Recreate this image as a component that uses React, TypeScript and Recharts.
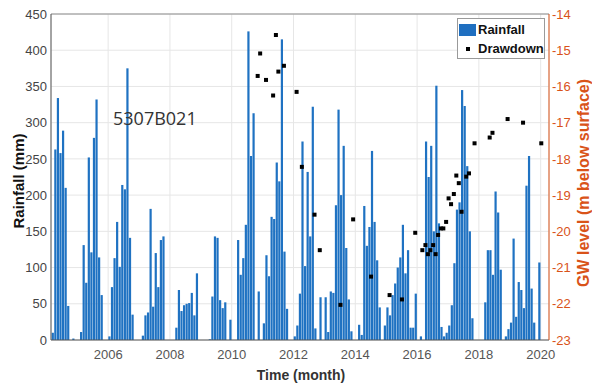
import {
  Bar,
  CartesianGrid,
  ComposedChart,
  ReferenceLine,
  Scatter,
  XAxis,
  YAxis
} from "recharts";

const firstYear = 2004;

// monthly rainfall (mm), Jan 2004 .. Dec 2019, one row per year
const rainfall = [
  0, 0, 10, 263, 334, 258, 289, 210, 47, 0, 2, 0,
  0, 11, 131, 79, 252, 121, 279, 332, 114, 62, 0, 0,
  5, 73, 113, 163, 101, 214, 208, 375, 141, 35, 0, 0,
  0, 6, 34, 38, 181, 46, 120, 73, 138, 143, 0, 0,
  0, 0, 17, 69, 40, 48, 50, 51, 65, 34, 92, 0,
  0, 0, 0, 1, 60, 143, 141, 55, 44, 52, 0, 28,
  0, 0, 138, 90, 113, 159, 426, 254, 313, 0, 67, 0,
  23, 117, 88, 170, 167, 245, 219, 415, 122, 43, 0, 0,
  5, 20, 64, 274, 102, 232, 143, 322, 16, 0, 59, 0,
  59, 11, 67, 65, 186, 318, 200, 268, 127, 56, 12, 0,
  0, 21, 7, 185, 130, 156, 261, 163, 110, 45, 0, 20,
  45, 34, 62, 78, 100, 114, 159, 92, 124, 17, 17, 64,
  0, 5, 0, 274, 225, 268, 150, 351, 161, 18, 5, 10,
  20, 48, 106, 180, 190, 345, 323, 240, 150, 30, 0, 0,
  0, 0, 52, 124, 124, 90, 205, 176, 97, 0, 5, 15,
  24, 140, 32, 80, 69, 44, 213, 254, 71, 24, 0, 107
];

// drawdown observations (decimal year, m below surface)
const drawdownTime = [
  2010.84, 2010.92, 2011.11, 2011.34, 2011.43, 2011.51, 2011.69, 2012.1, 2012.27,
  2012.68, 2012.85, 2013.52, 2013.93, 2014.51, 2015.11, 2015.51, 2015.94, 2016.17,
  2016.27, 2016.35, 2016.43, 2016.52, 2016.6, 2016.68, 2016.77, 2016.85, 2016.94,
  2017.02, 2017.1, 2017.19, 2017.27, 2017.35, 2017.44, 2017.59, 2017.68, 2017.86,
  2018.35, 2018.44, 2018.93, 2019.43, 2020.02
];
const drawdownLevel = [
  -15.71, -15.09, -15.82, -16.25, -14.58, -15.59, -15.43, -16.15, -18.22,
  -19.54, -20.52, -22.03, -19.67, -21.25, -21.76, -21.88, -20.04, -20.52,
  -20.38, -20.63, -20.52, -20.38, -20.63, -20.1, -19.92, -19.92, -19.74,
  -19.09, -19.25, -18.97, -18.46, -18.67, -19.46, -18.49, -18.4, -17.57,
  -17.41, -17.28, -16.9, -17.0, -17.57
];

const yearTicks = [2006, 2008, 2010, 2012, 2014, 2016, 2018, 2020];
const rainTicks = [0, 50, 100, 150, 200, 250, 300, 350, 400, 450];
const levelTicks = [-23, -22, -21, -20, -19, -18, -17, -16, -15, -14];

const rainData = rainfall.map((rain, i) => ({ t: firstYear + (i + 0.5) / 12, rain }));
const drawdownData = drawdownTime.map((t, i) => ({ t, level: drawdownLevel[i] }));

const FONT = "'Liberation Sans', Arial, sans-serif";
const BLUE = "#1f72c2";
const ORANGE = "#d95319";

const SquareDot = (props: any) => (
  <rect x={props.cx - 2} y={props.cy - 2} width={4} height={4} fill="#000" />
);

// month bar drawn to fill most of its slot, like the source plot
const RainBar = (props: any) => {
  const { x, y, width, height } = props;
  if (!height || height <= 0) return null;
  const w = 2.2;
  return <rect x={x + width / 2 - w / 2} y={y} width={w} height={height} fill={BLUE} />;
};

const LegendBox = () => (
  <div
    style={{
      position: "absolute",
      left: 457,
      top: 18,
      width: 88,
      height: 41,
      boxSizing: "border-box",
      border: "1px solid #9a9a9a",
      background: "#fff",
      fontFamily: FONT,
      fontWeight: "bold",
      fontSize: 13,
      color: "#111"
    }}
  >
    <div style={{ display: "flex", alignItems: "center", height: 19, marginTop: 1 }}>
      <span style={{ width: 17, height: 12, background: "#1f6fc0", marginLeft: 1, marginRight: 2 }} />
      Rainfall
    </div>
    <div style={{ display: "flex", alignItems: "center", height: 19 }}>
      <span style={{ width: 17, marginLeft: 1, marginRight: 2, display: "flex", justifyContent: "center" }}>
        <span style={{ width: 4, height: 4, background: "#000" }} />
      </span>
      Drawdown
    </div>
  </div>
);

export default function App() {
  return (
    <div style={{ position: "absolute", left: 0, top: 0, width: 592, height: 391, background: "#fff" }}>
      <ComposedChart
        width={592}
        height={391}
        data={rainData}
        margin={{ top: 14, right: 0, bottom: 0, left: 0 }}
      >
        <CartesianGrid yAxisId="left" stroke="#e6e6e6" />
        <XAxis
          dataKey="t"
          type="number"
          domain={[2004.15, 2020.27]}
          allowDataOverflow
          ticks={yearTicks}
          height={51}
          tickLine={false}
          tickSize={6}
          tickMargin={4}
          axisLine={{ stroke: "#555" }}
          tick={{ fill: "#555", fontSize: 13, fontFamily: FONT }}
        />
        <YAxis
          yAxisId="left"
          domain={[0, 450]}
          ticks={rainTicks}
          width={51}
          tickLine={false}
          tickSize={3}
          tickMargin={1}
          axisLine={{ stroke: "#555" }}
          tick={{ fill: "#444", fontSize: 13, fontFamily: FONT }}
        />
        <YAxis
          yAxisId="right"
          orientation="right"
          domain={[-23, -14]}
          ticks={levelTicks}
          width={43}
          tickLine={false}
          tickSize={2}
          tickMargin={1}
          axisLine={{ stroke: ORANGE }}
          tick={{ fill: ORANGE, fontSize: 13, fontFamily: FONT }}
        />
        <ReferenceLine yAxisId="left" y={450} stroke="#8c8c8c" />
        <Bar
          yAxisId="left"
          dataKey="rain"
          name="Rainfall"
          fill={BLUE}
          barSize={2}
          shape={<RainBar />}
          isAnimationActive={false}
        />
        <Scatter
          yAxisId="right"
          data={drawdownData}
          dataKey="level"
          name="Drawdown"
          shape={<SquareDot />}
          isAnimationActive={false}
        />
      </ComposedChart>
      <LegendBox />
      <svg
        width={592}
        height={391}
        style={{ position: "absolute", left: 0, top: 0, pointerEvents: "none" }}
      >
        <text
          x={18}
          y={181}
          transform="rotate(-90 18 181)"
          textAnchor="middle"
          dominantBaseline="central"
          fontFamily={FONT}
          fontWeight="bold"
          fontSize={15}
          fill="#111"
        >
          Rainfall (mm)
        </text>
        <text
          x={583}
          y={183}
          transform="rotate(-90 583 183)"
          textAnchor="middle"
          dominantBaseline="central"
          fontFamily={FONT}
          fontWeight="bold"
          fontSize={16}
          fill={ORANGE}
        >
          GW level (m below surface)
        </text>
        <text
          x={301}
          y={375}
          textAnchor="middle"
          dominantBaseline="central"
          fontFamily={FONT}
          fontWeight="bold"
          fontSize={14}
          fill="#333"
        >
          Time (month)
        </text>
        <text x={113} y={125} fontFamily="'Open Sans', sans-serif" fontSize={18} fill="#333">
          5307B021
        </text>
      </svg>
    </div>
  );
}
